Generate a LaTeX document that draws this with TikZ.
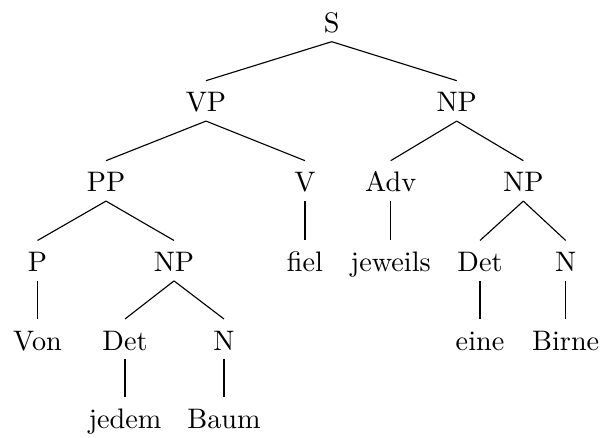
\documentclass[tikz,border=0pt]{standalone}
\begin{document}
\begin{tikzpicture}[x=0.3546pt,y=-0.3546pt,
  lbl/.style={inner sep=0pt,outer sep=0pt,anchor=base,text height=11pt,text depth=3.33pt,font=\fontsize{10}{12}\selectfont},
  edge/.style={draw=black,line width=0.4pt}]
\useasboundingbox (0,0) rectangle (603,437);
% row baselines
\def\ra{32.3}\def\rb{111.7}\def\rc{191.7}\def\rd{271.5}\def\re{350}\def\rf{428.3}
\node[lbl] (S) at (331.7,\ra) {S};
\node[lbl] (VP) at (206,\rb) {VP};
\node[lbl] (NP1) at (456.7,\rb) {NP};
\node[lbl] (PP) at (106,\rc) {PP};
\node[lbl] (V) at (305,\rc) {V};
\node[lbl] (Adv) at (390.7,\rc) {Adv};
\node[lbl] (NP2) at (523.3,\rc) {NP};
\node[lbl] (P) at (37.5,\rd) {P};
\node[lbl] (NP3) at (174,\rd) {NP};
\node[lbl] (fiel) at (305,\rd) {fiel};
\node[lbl] (jeweils) at (390.7,\rd) {jeweils};
\node[lbl] (Det2) at (480,\rd) {Det};
\node[lbl] (N2) at (565.7,\rd) {N};
\node[lbl] (Von) at (37.5,\re) {Von};
\node[lbl] (Det3) at (125,\re) {Det};
\node[lbl] (N3) at (224,\re) {N};
\node[lbl] (eine) at (480,\re) {eine};
\node[lbl] (Birne) at (565.7,\re) {Birne};
\node[lbl] (jedem) at (125,\rf) {jedem};
\node[lbl] (Baum) at (224,\rf) {Baum};
\foreach \a/\b in {S/VP,S/NP1,VP/PP,VP/V,NP1/Adv,NP1/NP2,PP/P,PP/NP3,V/fiel,Adv/jeweils,NP2/Det2,NP2/N2,P/Von,NP3/Det3,NP3/N3,Det2/eine,N2/Birne,Det3/jedem,N3/Baum}
  \draw[edge] (\a.south) -- (\b.north);
\end{tikzpicture}
\end{document}
